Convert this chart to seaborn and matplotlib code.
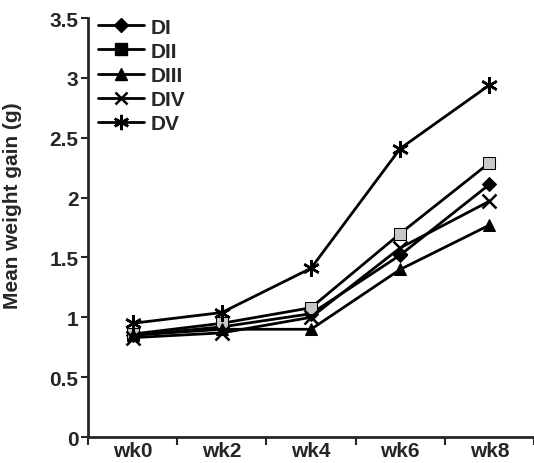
import matplotlib.pyplot as plt
import pandas as pd
import seaborn as sns
from matplotlib.lines import Line2D

weeks = ["wk0", "wk2", "wk4", "wk6", "wk8"]
d1 = [0.85, 0.92, 1.03, 1.52, 2.11]
d2 = [0.86, 0.95, 1.08, 1.70, 2.29]
d3 = [0.85, 0.90, 0.90, 1.40, 1.77]
d4 = [0.83, 0.87, 1.00, 1.58, 1.97]
d5 = [0.95, 1.04, 1.41, 2.41, 2.94]
groups = ["DI", "DII", "DIII", "DIV", "DV"]

sns.set_style("ticks")
plt.rcParams["font.family"] = ["Liberation Sans", "DejaVu Sans"]
plt.rcParams["font.weight"] = "bold"

fig = plt.figure(figsize=(5.34, 4.64), dpi=100)
ax = fig.add_axes([0.165, 0.056, 0.835, 0.903])

styles = {
    "DI": dict(marker="D", markersize=7, mfc="black"),
    "DII": dict(marker="s", markersize=9, mfc="#c8c8c8"),
    "DIII": dict(marker="^", markersize=9, mfc="black"),
    "DIV": dict(marker="x", markersize=10, mew=1.8),
    "DV": dict(marker=(6, 2, 0), markersize=12, mew=1.8),
}

for g, vals in zip(groups, [d1, d2, d3, d4, d5]):
    df = pd.DataFrame({"week": weeks, "gain": vals})
    sns.lineplot(data=df, x="week", y="gain", ax=ax, color="black",
                 linewidth=2, mec="black", **styles[g])

ax.set_xlim(-0.5, 4.5)
ax.set_ylim(0, 3.5)
ax.set_yticks([0, 0.5, 1, 1.5, 2, 2.5, 3, 3.5])
ax.set_yticklabels(["0", "0.5", "1", "1.5", "2", "2.5", "3", "3.5"])
ax.set_xticks(range(5))
ax.set_xticklabels(weeks)
ax.set_xticks([-0.5, 0.5, 1.5, 2.5, 3.5, 4.5], minor=True)
ax.tick_params(axis="x", which="major", length=0, labelsize=15, pad=3)
ax.tick_params(axis="x", which="minor", length=6, width=1.5, direction="out")
ax.tick_params(axis="y", length=5, width=1.5, labelsize=15, pad=2)
ax.set_xlabel("")
ax.set_ylabel("Mean weight gain (g)", fontsize=15, fontweight="bold")
ax.yaxis.set_label_coords(-0.148, 0.555)
for s in ["left", "bottom"]:
    ax.spines[s].set_linewidth(2)
sns.despine(ax=ax)

handles = [
    Line2D([], [], color="black", lw=2, marker="D", markersize=7),
    Line2D([], [], color="black", lw=2, marker="s", markersize=8),
    Line2D([], [], color="black", lw=2, marker="^", markersize=9),
    Line2D([], [], color="black", lw=2, marker="x", markersize=9, mew=1.8),
    Line2D([], [], color="black", lw=2, marker=(6, 2, 0), markersize=11, mew=1.8),
]
ax.legend(handles, groups, loc="upper left", bbox_to_anchor=(-0.01, 1.036),
          frameon=False, fontsize=15, handlelength=2.2, labelspacing=0.25,
          handletextpad=0.3, borderaxespad=0.3)

fig.savefig("out.png", dpi=100)
